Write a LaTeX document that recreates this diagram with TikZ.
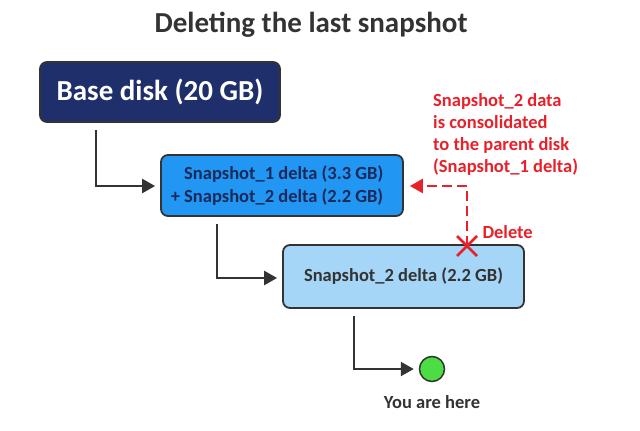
\documentclass[tikz,border=0pt]{standalone}
\usepackage{fontspec}
\setmainfont{Carlito}
\usetikzlibrary{arrows.meta,calc}
\definecolor{navy}{HTML}{1F2F6B}
\definecolor{bblue}{HTML}{2196F3}
\definecolor{lblue}{HTML}{A6D6F7}
\definecolor{dgray}{HTML}{333333}
\definecolor{txtnavy}{HTML}{1C2A5A}
\definecolor{rred}{HTML}{E8202A}
\definecolor{ggreen}{HTML}{4CDD44}
\begin{document}
\begin{tikzpicture}[x=1pt,y=-1pt,
  box/.style={draw=dgray,line width=1.8pt,rounded corners=7pt,inner sep=0pt,font=\bfseries},
  conn/.style={draw=dgray,line width=2.4pt,shorten <=7pt,shorten >=5pt,-{Triangle[length=13pt,width=14pt]}},
  redconn/.style={draw=rred,line width=2.8pt,dash pattern=on 10pt off 5pt,shorten >=6pt,-{Triangle[length=13pt,width=14pt]}},
  redtxt/.style={text=rred,font=\bfseries\fontsize{18.5}{22}\selectfont}]
\useasboundingbox (0,0) rectangle (640,431);
\node[font=\bfseries\fontsize{29}{32}\selectfont,text=dgray] (title) at (311,25) {Deleting the last snapshot};
\node[box,fill=navy,text=white,minimum width=240pt,minimum height=60pt,font=\bfseries\fontsize{29}{32}\selectfont] (base) at (160,92) {Base disk (20 GB)};
\node[box,fill=bblue,text=txtnavy,minimum width=242pt,minimum height=61pt,align=right,font=\bfseries\fontsize{18.5}{23.5}\selectfont] (s1) at (282,185.5) {Snapshot\_1 delta (3.3 GB)\hspace*{10pt}\\+ Snapshot\_2 delta (2.2 GB)\hspace*{10pt}};
\node[box,fill=lblue,text=dgray,minimum width=241pt,minimum height=63pt,font=\bfseries\fontsize{18.5}{22}\selectfont] (s2) at (403.5,276.5) {Snapshot\_2 delta (2.2 GB)};
\node[circle,draw=dgray,line width=1.5pt,fill=ggreen,minimum size=25pt,inner sep=0pt] (here) at (432,369) {};
\node[font=\bfseries\fontsize{18.5}{22}\selectfont,text=dgray] (heretxt) at (432,402) {You are here};
\coordinate (c1) at (96,186);
\coordinate (c2) at (217,278);
\coordinate (c3) at (354,370);
\draw[conn] (base.south -| c1) |- (s1.west |- c1);
\draw[conn] (s1.south -| c2) |- (s2.west |- c2);
\draw[conn] (s2.south -| c3) |- (here.west);
\coordinate (x) at (467,246);
\coordinate (bend) at (467,186);
\draw[redconn] (x) -- (bend) -- (s1.east |- bend);
\draw[rred,line width=2.8pt] ($(x)+(-10,-10)$) -- ($(x)+(10,10)$) ($(x)+(-10,10)$) -- ($(x)+(10,-10)$);
\node[redtxt,anchor=west] (del) at (479,232) {Delete};
\node[redtxt,anchor=north west,align=left,inner sep=0pt] (note) at (433,93) {Snapshot\_2 data\\is consolidated\\to the parent disk\\(Snapshot\_1 delta)};
\end{tikzpicture}
\end{document}
